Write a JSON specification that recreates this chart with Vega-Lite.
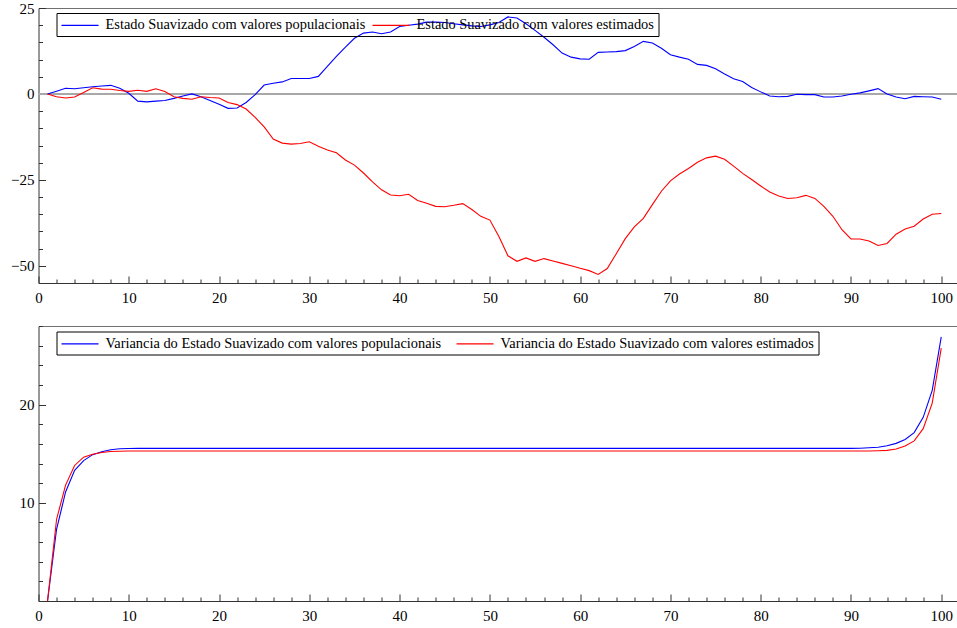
{
  "$schema": "https://vega.github.io/schema/vega-lite/v6.json",
  "background": "white",
  "padding": {"left": 10.5, "top": 1, "right": 0, "bottom": 0},
  "bounds": "flush",
  "spacing": 43,
  "resolve": {"scale": {"y": "independent", "color": "independent"}, "legend": {"color": "independent"}},
  "config": {
    "view": {"stroke": null},
    "font": "Liberation Serif",
    "axis": {
      "labelFont": "Liberation Serif",
      "labelFontSize": 15,
      "labelColor": "#000000",
      "domainColor": "#333333",
      "tickColor": "#333333",
      "grid": false,
      "labelFlush": false,
      "labelOverlap": false,
      "title": null
    },
    "legend": {
      "labelFont": "Liberation Serif",
      "labelFontSize": 14.4,
      "labelColor": "#000000",
      "labelLimit": 0,
      "symbolType": "M-1,0H4.29",
      "symbolSize": 196,
      "symbolStrokeWidth": 1.2,
      "strokeColor": "#000000",
      "fillColor": "transparent",
      "padding": 4,
      "columnPadding": 4,
      "labelOffset": 29
    }
  },
  "data": {
    "values": [
      {"t": 1, "pop": 0, "est": 0, "vp": 0, "ve": 0},
      {"t": 2, "pop": 0.8, "est": -0.8, "vp": 7.3, "ve": 8.3},
      {"t": 3, "pop": 1.65, "est": -1.2, "vp": 11.1, "ve": 11.8},
      {"t": 4, "pop": 1.5, "est": -0.9, "vp": 13.3, "ve": 13.8},
      {"t": 5, "pop": 1.8, "est": 0.45, "vp": 14.3, "ve": 14.65},
      {"t": 6, "pop": 2.1, "est": 1.8, "vp": 14.9, "ve": 14.95},
      {"t": 7, "pop": 2.3, "est": 1.4, "vp": 15.2, "ve": 15.12},
      {"t": 8, "pop": 2.5, "est": 1.35, "vp": 15.4, "ve": 15.22},
      {"t": 9, "pop": 1.65, "est": 1.0, "vp": 15.5, "ve": 15.25},
      {"t": 10, "pop": 0.2, "est": 0.75, "vp": 15.52, "ve": 15.27},
      {"t": 11, "pop": -2.1, "est": 1.05, "vp": 15.54, "ve": 15.27},
      {"t": 12, "pop": -2.3, "est": 0.75, "vp": 15.54, "ve": 15.27},
      {"t": 13, "pop": -2.1, "est": 1.5, "vp": 15.54, "ve": 15.27},
      {"t": 14, "pop": -1.9, "est": 0.7, "vp": 15.54, "ve": 15.27},
      {"t": 15, "pop": -1.3, "est": -0.8, "vp": 15.54, "ve": 15.27},
      {"t": 16, "pop": -0.6, "est": -1.3, "vp": 15.54, "ve": 15.27},
      {"t": 17, "pop": 0, "est": -1.55, "vp": 15.54, "ve": 15.27},
      {"t": 18, "pop": -0.8, "est": -0.8, "vp": 15.54, "ve": 15.27},
      {"t": 19, "pop": -1.9, "est": -1.05, "vp": 15.54, "ve": 15.27},
      {"t": 20, "pop": -3.0, "est": -1.2, "vp": 15.54, "ve": 15.27},
      {"t": 21, "pop": -4.2, "est": -2.5, "vp": 15.54, "ve": 15.27},
      {"t": 22, "pop": -4.1, "est": -3.1, "vp": 15.54, "ve": 15.27},
      {"t": 23, "pop": -2.5, "est": -4.4, "vp": 15.54, "ve": 15.27},
      {"t": 24, "pop": -0.2, "est": -6.8, "vp": 15.54, "ve": 15.27},
      {"t": 25, "pop": 2.6, "est": -9.6, "vp": 15.54, "ve": 15.27},
      {"t": 26, "pop": 3.1, "est": -13.1, "vp": 15.54, "ve": 15.27},
      {"t": 27, "pop": 3.5, "est": -14.3, "vp": 15.54, "ve": 15.27},
      {"t": 28, "pop": 4.5, "est": -14.6, "vp": 15.54, "ve": 15.27},
      {"t": 29, "pop": 4.5, "est": -14.4, "vp": 15.54, "ve": 15.27},
      {"t": 30, "pop": 4.5, "est": -13.9, "vp": 15.54, "ve": 15.27},
      {"t": 31, "pop": 5.1, "est": -15.2, "vp": 15.54, "ve": 15.27},
      {"t": 32, "pop": 8.0, "est": -16.3, "vp": 15.54, "ve": 15.27},
      {"t": 33, "pop": 10.9, "est": -17.1, "vp": 15.54, "ve": 15.27},
      {"t": 34, "pop": 13.6, "est": -19.2, "vp": 15.54, "ve": 15.27},
      {"t": 35, "pop": 16.2, "est": -20.7, "vp": 15.54, "ve": 15.27},
      {"t": 36, "pop": 17.7, "est": -23.0, "vp": 15.54, "ve": 15.27},
      {"t": 37, "pop": 18.0, "est": -25.6, "vp": 15.54, "ve": 15.27},
      {"t": 38, "pop": 17.5, "est": -27.9, "vp": 15.54, "ve": 15.27},
      {"t": 39, "pop": 18.0, "est": -29.4, "vp": 15.54, "ve": 15.27},
      {"t": 40, "pop": 19.6, "est": -29.6, "vp": 15.54, "ve": 15.27},
      {"t": 41, "pop": 20.0, "est": -29.2, "vp": 15.54, "ve": 15.27},
      {"t": 42, "pop": 20.3, "est": -31.0, "vp": 15.54, "ve": 15.27},
      {"t": 43, "pop": 20.9, "est": -31.8, "vp": 15.54, "ve": 15.27},
      {"t": 44, "pop": 20.9, "est": -32.7, "vp": 15.54, "ve": 15.27},
      {"t": 45, "pop": 20.8, "est": -32.8, "vp": 15.54, "ve": 15.27},
      {"t": 46, "pop": 20.4, "est": -32.4, "vp": 15.54, "ve": 15.27},
      {"t": 47, "pop": 20.1, "est": -31.9, "vp": 15.54, "ve": 15.27},
      {"t": 48, "pop": 19.8, "est": -33.6, "vp": 15.54, "ve": 15.27},
      {"t": 49, "pop": 19.6, "est": -35.6, "vp": 15.54, "ve": 15.27},
      {"t": 50, "pop": 20.1, "est": -36.7, "vp": 15.54, "ve": 15.27},
      {"t": 51, "pop": 20.8, "est": -41.5, "vp": 15.54, "ve": 15.27},
      {"t": 52, "pop": 22.4, "est": -47.1, "vp": 15.54, "ve": 15.27},
      {"t": 53, "pop": 22.1, "est": -48.7, "vp": 15.54, "ve": 15.27},
      {"t": 54, "pop": 20.4, "est": -47.7, "vp": 15.54, "ve": 15.27},
      {"t": 55, "pop": 18.5, "est": -48.7, "vp": 15.54, "ve": 15.27},
      {"t": 56, "pop": 16.5, "est": -47.9, "vp": 15.54, "ve": 15.27},
      {"t": 57, "pop": 14.3, "est": -48.6, "vp": 15.54, "ve": 15.27},
      {"t": 58, "pop": 11.9, "est": -49.3, "vp": 15.54, "ve": 15.27},
      {"t": 59, "pop": 10.7, "est": -50.0, "vp": 15.54, "ve": 15.27},
      {"t": 60, "pop": 10.2, "est": -50.7, "vp": 15.54, "ve": 15.27},
      {"t": 61, "pop": 10.1, "est": -51.4, "vp": 15.54, "ve": 15.27},
      {"t": 62, "pop": 12.1, "est": -52.5, "vp": 15.54, "ve": 15.27},
      {"t": 63, "pop": 12.2, "est": -50.8, "vp": 15.54, "ve": 15.27},
      {"t": 64, "pop": 12.3, "est": -46.5, "vp": 15.54, "ve": 15.27},
      {"t": 65, "pop": 12.6, "est": -42.1, "vp": 15.54, "ve": 15.27},
      {"t": 66, "pop": 13.8, "est": -38.7, "vp": 15.54, "ve": 15.27},
      {"t": 67, "pop": 15.3, "est": -36.2, "vp": 15.54, "ve": 15.27},
      {"t": 68, "pop": 14.8, "est": -32.2, "vp": 15.54, "ve": 15.27},
      {"t": 69, "pop": 13.3, "est": -28.3, "vp": 15.54, "ve": 15.27},
      {"t": 70, "pop": 11.4, "est": -25.3, "vp": 15.54, "ve": 15.27},
      {"t": 71, "pop": 10.7, "est": -23.3, "vp": 15.54, "ve": 15.27},
      {"t": 72, "pop": 10.1, "est": -21.7, "vp": 15.54, "ve": 15.27},
      {"t": 73, "pop": 8.6, "est": -19.9, "vp": 15.54, "ve": 15.27},
      {"t": 74, "pop": 8.3, "est": -18.6, "vp": 15.54, "ve": 15.27},
      {"t": 75, "pop": 7.3, "est": -18.1, "vp": 15.54, "ve": 15.27},
      {"t": 76, "pop": 5.8, "est": -19.0, "vp": 15.54, "ve": 15.27},
      {"t": 77, "pop": 4.4, "est": -21.0, "vp": 15.54, "ve": 15.27},
      {"t": 78, "pop": 3.6, "est": -23.1, "vp": 15.54, "ve": 15.27},
      {"t": 79, "pop": 1.85, "est": -24.9, "vp": 15.54, "ve": 15.27},
      {"t": 80, "pop": 0.6, "est": -26.8, "vp": 15.54, "ve": 15.27},
      {"t": 81, "pop": -0.6, "est": -28.5, "vp": 15.54, "ve": 15.27},
      {"t": 82, "pop": -0.8, "est": -29.7, "vp": 15.54, "ve": 15.27},
      {"t": 83, "pop": -0.7, "est": -30.4, "vp": 15.54, "ve": 15.27},
      {"t": 84, "pop": -0.1, "est": -30.2, "vp": 15.54, "ve": 15.27},
      {"t": 85, "pop": -0.2, "est": -29.5, "vp": 15.54, "ve": 15.27},
      {"t": 86, "pop": -0.2, "est": -30.4, "vp": 15.54, "ve": 15.27},
      {"t": 87, "pop": -0.9, "est": -32.7, "vp": 15.54, "ve": 15.27},
      {"t": 88, "pop": -0.9, "est": -35.6, "vp": 15.54, "ve": 15.27},
      {"t": 89, "pop": -0.6, "est": -39.5, "vp": 15.54, "ve": 15.27},
      {"t": 90, "pop": -0.1, "est": -42.2, "vp": 15.54, "ve": 15.27},
      {"t": 91, "pop": 0.3, "est": -42.2, "vp": 15.56, "ve": 15.27},
      {"t": 92, "pop": 0.9, "est": -42.8, "vp": 15.6, "ve": 15.27},
      {"t": 93, "pop": 1.55, "est": -44.1, "vp": 15.65, "ve": 15.3},
      {"t": 94, "pop": 0, "est": -43.5, "vp": 15.8, "ve": 15.34},
      {"t": 95, "pop": -0.9, "est": -40.8, "vp": 16.05, "ve": 15.47},
      {"t": 96, "pop": -1.4, "est": -39.3, "vp": 16.45, "ve": 15.78},
      {"t": 97, "pop": -0.7, "est": -38.5, "vp": 17.15, "ve": 16.3},
      {"t": 98, "pop": -0.8, "est": -36.4, "vp": 18.7, "ve": 17.55},
      {"t": 99, "pop": -0.9, "est": -35.0, "vp": 21.45, "ve": 20.15},
      {"t": 100, "pop": -1.55, "est": -34.8, "vp": 26.9, "ve": 25.75}
    ]
  },
  "vconcat": [
    {
      "width": 919,
      "height": 275,
      "resolve": {"axis": {"x": "independent", "y": "independent"}},
      "layer": [
        {
          "mark": {"type": "rule", "color": "#a8a8a8", "strokeWidth": 1.5},
          "encoding": {
            "y": {"datum": 0, "type": "quantitative", "scale": {"domain": [-55, 25], "nice": false, "zero": false}, "axis": null}
          }
        },
        {
          "transform": [{"fold": ["pop", "est"], "as": ["serie", "valor"]}],
          "mark": {"type": "line", "strokeWidth": 1.1},
          "encoding": {
            "x": {
              "field": "t", "type": "quantitative",
              "scale": {"domain": [0, 101.8], "nice": false, "zero": false},
              "axis": {
                "orient": "bottom", "title": null,
                "labelFont": "Liberation Serif", "labelFontSize": 15, "labelColor": "#000000",
                "values": [0, 10, 20, 30, 40, 50, 60, 70, 80, 90, 100],
                "tickSize": -7, "labelPadding": 14
              }
            },
            "y": {
              "field": "valor", "type": "quantitative",
              "scale": {"domain": [-55, 25], "nice": false, "zero": false},
              "axis": {
                "orient": "left", "title": null,
                "labelFont": "Liberation Serif", "labelFontSize": 15, "labelColor": "#000000",
                "values": [-50, -25, 0, 25],
                "tickSize": -7, "labelPadding": 11.5
              }
            },
            "color": {
              "field": "serie", "type": "nominal",
              "scale": {"domain": ["pop", "est"], "range": ["#0000ff", "#ff0000"]},
              "legend": {
                "orient": "none", "legendX": 18, "legendY": 5, "direction": "horizontal", "title": null,
                "labelExpr": "datum.value === 'pop' ? 'Estado Suavizado com valores populacionais' : 'Estado Suavizado com valores estimados'"
              }
            }
          }
        },
        {
          "mark": {"type": "line", "strokeOpacity": 0},
          "encoding": {
            "x": {
              "field": "t", "type": "quantitative",
              "scale": {"domain": [0, 101.8], "nice": false, "zero": false},
              "axis": {"orient": "top", "title": null, "labels": false, "ticks": false, "domainColor": "#707070"}
            },
            "y": {
              "field": "pop", "type": "quantitative",
              "scale": {"domain": [-55, 25], "nice": false, "zero": false},
              "axis": {
                "orient": "left", "title": null, "labels": false, "domain": false,
                "values": [-55, -45, -40, -35, -30, -20, -15, -10, -5, 5, 10, 15, 20],
                "tickSize": -4
              }
            }
          }
        },
        {
          "mark": {"type": "line", "strokeOpacity": 0},
          "encoding": {
            "x": {
              "field": "t", "type": "quantitative",
              "scale": {"domain": [0, 101.8], "nice": false, "zero": false},
              "axis": {
                "orient": "bottom", "title": null, "labels": false, "domain": false,
                "values": [2, 4, 6, 8, 12, 14, 16, 18, 22, 24, 26, 28, 32, 34, 36, 38, 42, 44, 46, 48, 52, 54, 56, 58, 62, 64, 66, 68, 72, 74, 76, 78, 82, 84, 86, 88, 92, 94, 96, 98],
                "tickSize": -4
              }
            },
            "y": {"field": "pop", "type": "quantitative", "scale": {"domain": [-55, 25], "nice": false, "zero": false}, "axis": null}
          }
        }
      ]
    },
    {
      "width": 919,
      "height": 275,
      "resolve": {"axis": {"x": "independent", "y": "independent"}},
      "layer": [
        {
          "transform": [{"fold": ["vp", "ve"], "as": ["serie", "valor"]}],
          "mark": {"type": "line", "strokeWidth": 1.1},
          "encoding": {
            "x": {
              "field": "t", "type": "quantitative",
              "scale": {"domain": [0, 101.8], "nice": false, "zero": false},
              "axis": {
                "orient": "bottom", "title": null,
                "labelFont": "Liberation Serif", "labelFontSize": 15, "labelColor": "#000000",
                "values": [0, 10, 20, 30, 40, 50, 60, 70, 80, 90, 100],
                "tickSize": -7, "labelPadding": 14
              }
            },
            "y": {
              "field": "valor", "type": "quantitative",
              "scale": {"domain": [0, 28], "nice": false, "zero": false},
              "axis": {
                "orient": "left", "title": null,
                "labelFont": "Liberation Serif", "labelFontSize": 15, "labelColor": "#000000",
                "values": [10, 20],
                "tickSize": -7, "labelPadding": 11.5
              }
            },
            "color": {
              "field": "serie", "type": "nominal",
              "scale": {"domain": ["vp", "ve"], "range": ["#0000ff", "#ff0000"]},
              "legend": {
                "orient": "none", "legendX": 18, "legendY": 5.5, "direction": "horizontal", "title": null,
                "columnPadding": 12,
                "labelExpr": "datum.value === 'vp' ? 'Variancia do Estado Suavizado com valores populacionais' : 'Variancia do Estado Suavizado com valores estimados'"
              }
            }
          }
        },
        {
          "mark": {"type": "line", "strokeOpacity": 0},
          "encoding": {
            "x": {
              "field": "t", "type": "quantitative",
              "scale": {"domain": [0, 101.8], "nice": false, "zero": false},
              "axis": {"orient": "top", "title": null, "labels": false, "ticks": false, "domainColor": "#707070"}
            },
            "y": {
              "field": "vp", "type": "quantitative",
              "scale": {"domain": [0, 28], "nice": false, "zero": false},
              "axis": {
                "orient": "left", "title": null, "labels": false, "domain": false,
                "values": [2, 4, 6, 8, 12, 14, 16, 18, 22, 24, 26, 28],
                "tickSize": -4
              }
            }
          }
        },
        {
          "mark": {"type": "line", "strokeOpacity": 0},
          "encoding": {
            "x": {
              "field": "t", "type": "quantitative",
              "scale": {"domain": [0, 101.8], "nice": false, "zero": false},
              "axis": {
                "orient": "bottom", "title": null, "labels": false, "domain": false,
                "values": [2, 4, 6, 8, 12, 14, 16, 18, 22, 24, 26, 28, 32, 34, 36, 38, 42, 44, 46, 48, 52, 54, 56, 58, 62, 64, 66, 68, 72, 74, 76, 78, 82, 84, 86, 88, 92, 94, 96, 98],
                "tickSize": -4
              }
            },
            "y": {"field": "vp", "type": "quantitative", "scale": {"domain": [0, 28], "nice": false, "zero": false}, "axis": null}
          }
        }
      ]
    }
  ]
}
